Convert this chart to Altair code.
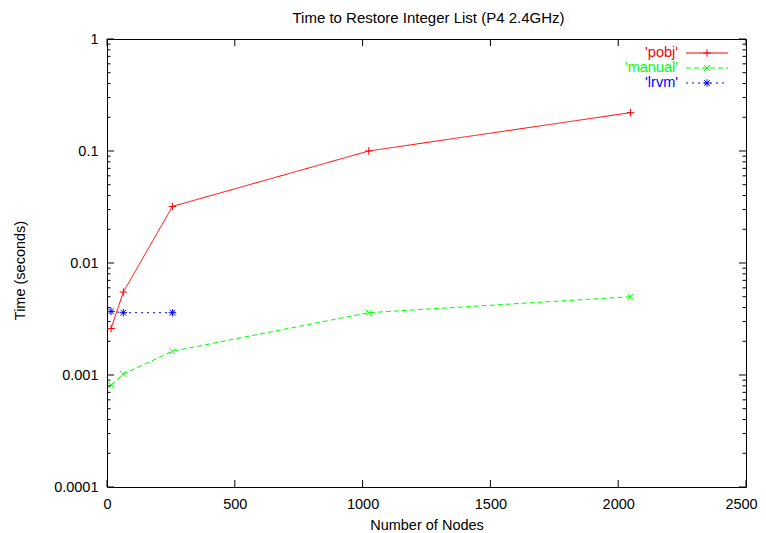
import altair as alt
import pandas as pd

FONT = "Liberation Sans"
W, H = 639, 448

# ---- data ----
nodes = [16, 64, 256, 1024, 2048]
pobj = [0.0026, 0.0055, 0.032, 0.10, 0.22]
manual = [0.00081, 0.00102, 0.00163, 0.0036, 0.0050]
lrvm_nodes = [16, 64, 256]
lrvm = [0.0037, 0.0036, 0.0036]

series_names = ["'pobj'", "'manual'", "'lrvm'"]
colors = ["#ff0000", "#00ff00", "#0000ff"]
dashes = [[1, 0], [5, 3], [2, 4]]

title_text = ["Time to Restore Integer List (P4 2.4GHz)"]
x_ticks = [0, 500, 1000, 1500, 2000, 2500]
y_major = [0.0001, 0.001, 0.01, 0.1, 1]
y_minor = [k * m for m in [0.0001, 0.001, 0.01, 0.1] for k in range(2, 10)]

PLUS = "M-1,0L1,0M0,-1L0,1"
XS = "M-1,-1L1,1M-1,1L1,-1"
STAR = "M-1,0L1,0M0,-1L0,1M-0.75,-0.75L0.75,0.75M-0.75,0.75L0.75,-0.75"
shapes = [PLUS, XS, STAR]
sizes = [56, 36, 56]

xscale = alt.Scale(domain=[0, 2500], nice=False, zero=False)
yscale = alt.Scale(type="log", domain=[0.0001, 1], nice=False)

xaxis = alt.Axis(
    title="Number of Nodes", values=x_ticks, format="d", ticks=False, domain=False,
    grid=False, labelPadding=10, labelFlush=False, labelOverlap=False,
    labelOffset={"condition": {"test": "datum.value === 2500", "value": -5}, "value": 0},
    titleY=42, titleBaseline="alphabetic", titleFontWeight="normal",
)
yaxis = alt.Axis(
    title="Time (seconds)", values=y_major, format="~g", ticks=False, domain=False,
    grid=False, labelPadding=9, labelFlush=False, labelOverlap=False,
    titleX=-83, titleY=231, titleAngle=-90, titleBaseline="alphabetic",
    titleFontWeight="normal", titleAlign="center",
)

frames = []
series_x = [nodes, nodes, lrvm_nodes]
series_y = [pobj, manual, lrvm]
for i in range(3):
    frames.append(pd.DataFrame({"series": series_names[i], "n": series_x[i], "t": series_y[i]}))

X = alt.X("n:Q", scale=xscale, axis=xaxis)
Y = alt.Y("t:Q", scale=yscale, axis=yaxis)

layers = []
for i in range(3):
    base = alt.Chart(frames[i])
    layers.append(base.mark_line(color=colors[i], strokeWidth=1, strokeDash=dashes[i]).encode(x=X, y=Y))
    layers.append(base.mark_point(shape=shapes[i], filled=False, color=colors[i], size=sizes[i],
                                  strokeWidth=1, opacity=1).encode(x=X, y=Y))

# inward tick marks (gnuplot style, mirrored on all sides)
ymaj = pd.DataFrame({"t": y_major})
ymin = pd.DataFrame({"t": y_minor})
xt = pd.DataFrame({"n": x_ticks})
Yt = alt.Y("t:Q", scale=yscale, axis=yaxis)
Xt = alt.X("n:Q", scale=xscale, axis=xaxis)
for df_, ln in [(ymaj, 7), (ymin, 3.5)]:
    layers.append(alt.Chart(df_).mark_rule(color="black", strokeWidth=1).encode(
        y=Yt, x=alt.value(0), x2=alt.value(ln)))
    layers.append(alt.Chart(df_).mark_rule(color="black", strokeWidth=1).encode(
        y=Yt, x=alt.value(W - ln), x2=alt.value(W)))
layers.append(alt.Chart(xt).mark_rule(color="black", strokeWidth=1).encode(
    x=Xt, y=alt.value(H - 7), y2=alt.value(H)))
layers.append(alt.Chart(xt).mark_rule(color="black", strokeWidth=1).encode(
    x=Xt, y=alt.value(0), y2=alt.value(7)))

# key (top right, gnuplot style)
for i in range(3):
    ky = 14 + 15 * i
    kd = pd.DataFrame({"label": [series_names[i]]})
    layers.append(alt.Chart(kd).mark_text(align="right", baseline="middle", color=colors[i],
                                          font=FONT, fontSize=14.5).encode(
        text="label:N", x=alt.value(571), y=alt.value(ky)))
    layers.append(alt.Chart(kd).mark_rule(color=colors[i], strokeWidth=1, strokeDash=dashes[i]).encode(
        x=alt.value(579), x2=alt.value(621), y=alt.value(ky)))
    layers.append(alt.Chart(kd).mark_point(shape=shapes[i], filled=False, color=colors[i], size=sizes[i],
                                           strokeWidth=1, opacity=1).encode(
        x=alt.value(600), y=alt.value(ky)))

# chart title (gnuplot places it just above the frame)
layers.append(alt.Chart(pd.DataFrame({"title": title_text})).mark_text(
    align="center", baseline="alphabetic", color="black", font=FONT, fontSize=15).encode(
    text="title:N", x=alt.value(W / 2 + 2), y=alt.value(-16)))

chart = alt.layer(*layers).properties(
    width=W, height=H,
    autosize=alt.AutoSizeParams(type="none"),
    padding={"left": 99, "top": 31, "right": 12, "bottom": 46},
    background="white",
).configure_view(stroke="black", strokeWidth=1).configure_axis(
    labelFont=FONT, titleFont=FONT, labelFontSize=14.5, titleFontSize=14.5,
    labelColor="black", titleColor="black",
)

chart.save("out.html", embed_options={"renderer": "svg", "actions": False})
